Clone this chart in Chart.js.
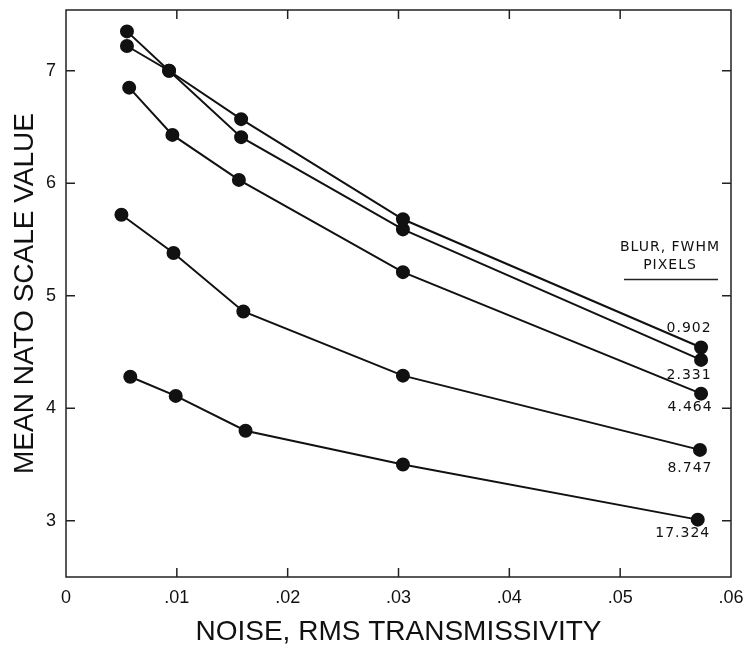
<!DOCTYPE html>
<html>
<head>
<meta charset="utf-8">
<script src="https://cdn.jsdelivr.net/npm/chart.js@4/dist/chart.umd.min.js"></script>
<style>
  html, body { margin: 0; padding: 0; background: #fff; }
  #wrap { width: 746px; height: 654px; }
</style>
</head>
<body>
<div id="wrap"><canvas id="chart" width="746" height="654"></canvas></div>
<script>
// Data
const blurLabels = ['0.902', '2.331', '4.464', '8.747', '17.324'];
const noise902 = [0.0055, 0.0093, 0.0158, 0.0304, 0.0573];
const nato902 = [7.35, 7.00, 6.57, 5.68, 4.54];
const noise2331 = [0.0055, 0.0093, 0.0158, 0.0304, 0.0573];
const nato2331 = [7.22, 7.00, 6.41, 5.59, 4.43];
const noise4464 = [0.0057, 0.0096, 0.0156, 0.0304, 0.0573];
const nato4464 = [6.85, 6.43, 6.03, 5.21, 4.13];
const noise8747 = [0.0050, 0.0097, 0.0160, 0.0304, 0.0572];
const nato8747 = [5.72, 5.38, 4.86, 4.29, 3.63];
const noise17324 = [0.0058, 0.0099, 0.0162, 0.0304, 0.0570];
const nato17324 = [4.28, 4.11, 3.80, 3.50, 3.01];

const xTicks = [0, 0.01, 0.02, 0.03, 0.04, 0.05, 0.06];
const xTickLabels = ['0', '.01', '.02', '.03', '.04', '.05', '.06'];
const yTicks = [3, 4, 5, 6, 7];
const yTickLabels = ['3', '4', '5', '6', '7'];

const seriesX = [noise902, noise2331, noise4464, noise8747, noise17324];
const seriesY = [nato902, nato2331, nato4464, nato8747, nato17324];

function toPoints(xs, ys) {
    return xs.map((x, i) => ({ x: x, y: ys[i] }));
}

const datasets = seriesX.map((xs, i) => ({
    label: blurLabels[i],
    data: toPoints(xs, seriesY[i]),
    borderColor: '#111',
    backgroundColor: '#111',
    borderWidth: 2,
    pointRadius: 6,
    pointHoverRadius: 6,
    fill: false,
    tension: 0
}));

// label offsets from the last point of each curve (px)
const labelOffsets = [[-12, -19], [-12, 15], [-11, 14], [-10, 18], [-15, 14]];

const framePlugin = {
    id: 'frame',
    afterDraw(chart) {
        const ctx = chart.ctx;
        const a = chart.chartArea;
        const xs = chart.scales.x;
        const ys = chart.scales.y;
        ctx.save();
        ctx.strokeStyle = '#222';
        ctx.lineWidth = 1.5;
        ctx.strokeRect(a.left, a.top, a.right - a.left, a.bottom - a.top);
        // inward ticks
        ctx.beginPath();
        xTicks.slice(1, -1).forEach(v => {
            const px = xs.getPixelForValue(v);
            ctx.moveTo(px, a.bottom); ctx.lineTo(px, a.bottom - 9);
            ctx.moveTo(px, a.top); ctx.lineTo(px, a.top + 9);
        });
        yTicks.forEach(v => {
            const py = ys.getPixelForValue(v);
            ctx.moveTo(a.left, py); ctx.lineTo(a.left + 9, py);
            ctx.moveTo(a.right, py); ctx.lineTo(a.right - 9, py);
        });
        ctx.stroke();

        // curve labels
        ctx.fillStyle = '#111';
        ctx.font = '14px "DejaVu Sans"';
        ctx.letterSpacing = '1px';
        ctx.textAlign = 'center';
        ctx.textBaseline = 'middle';
        chart.data.datasets.forEach((ds, i) => {
            const last = ds.data[ds.data.length - 1];
            const px = xs.getPixelForValue(last.x);
            const py = ys.getPixelForValue(last.y);
            ctx.fillText(ds.label, px + labelOffsets[i][0], py + labelOffsets[i][1]);
        });

        // legend heading
        const hx = a.right - 61;
        const hy = ys.getPixelForValue(5.43);
        ctx.fillText('BLUR, FWHM', hx, hy);
        ctx.fillText('PIXELS', hx, hy + 18);
        ctx.lineWidth = 1.5;
        ctx.beginPath();
        ctx.moveTo(hx - 46, hy + 32);
        ctx.lineTo(hx + 48, hy + 32);
        ctx.stroke();
        ctx.restore();
    }
};

const ctx = document.getElementById('chart').getContext('2d');
new Chart(ctx, {
    type: 'line',
    data: { datasets: datasets },
    options: {
        responsive: false,
        animation: false,
        layout: { padding: { top: 10, right: 15, left: 0, bottom: 0 } },
        plugins: {
            legend: { display: false },
            tooltip: { enabled: false }
        },
        scales: {
            x: {
                type: 'linear',
                min: 0,
                max: 0.06,
                afterBuildTicks: s => { s.ticks = xTicks.map(v => ({ value: v })); },
                afterFit: s => { s.height = 77; s.paddingLeft = 0; s.paddingRight = 0; },
                grid: { display: false, drawTicks: false },
                border: { display: false },
                ticks: {
                    padding: 10,
                    color: '#111',
                    font: { family: '"Liberation Sans"', size: 18 },
                    callback: (v, i) => xTickLabels[i]
                },
                title: {
                    display: true,
                    text: 'NOISE, RMS TRANSMISSIVITY',
                    color: '#111',
                    font: { family: '"Liberation Sans"', size: 28 },
                    padding: { top: 0, bottom: 5 }
                }
            },
            y: {
                type: 'linear',
                min: 2.5,
                max: 7.54,
                afterBuildTicks: s => { s.ticks = yTicks.map(v => ({ value: v })); },
                afterFit: s => { s.width = 66; s.paddingTop = 0; s.paddingBottom = 0; },
                grid: { display: false, drawTicks: false },
                border: { display: false },
                ticks: {
                    padding: 10,
                    color: '#111',
                    font: { family: '"Liberation Sans"', size: 18 },
                    callback: (v, i) => yTickLabels[i]
                },
                title: {
                    display: true,
                    text: 'MEAN NATO SCALE VALUE',
                    color: '#111',
                    font: { family: '"Liberation Sans"', size: 28 },
                    padding: { top: 8, bottom: 0 }
                }
            }
        }
    },
    plugins: [framePlugin]
});
</script>
</body>
</html>
